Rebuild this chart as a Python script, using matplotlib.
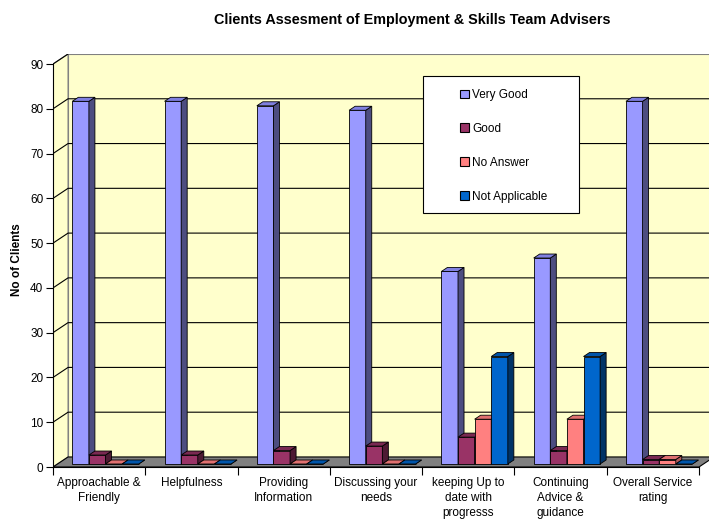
import matplotlib
matplotlib.use('Agg')
import matplotlib.pyplot as plt
from matplotlib.patches import Polygon, Rectangle, Patch

plt.rcParams['font.family'] = ['Liberation Sans', 'DejaVu Sans']

# Survey results per question
categories = ['Approachable &\nFriendly', 'Helpfulness', 'Providing\nInformation',
              'Discussing your\nneeds', 'keeping Up to\ndate with\nprogresss',
              'Continuing\nAdvice &\nguidance', 'Overall Service\nrating']
series = ['Very Good', 'Good', 'No Answer', 'Not Applicable']
very_good = [81, 81, 80, 79, 43, 46, 81]
good = [2, 2, 3, 4, 6, 3, 1]
no_answer = [0, 0, 0, 0, 10, 10, 1]
not_applicable = [0, 0, 0, 0, 24, 24, 0]
values = [very_good, good, no_answer, not_applicable]

# (front, side, top) colours for each series
colors = [('#9999FF', '#4D4D80', '#8080E0'),
          ('#993366', '#4D1A33', '#7A2952'),
          ('#FF8080', '#B35A5A', '#E07070'),
          ('#0066CC', '#003366', '#0055AA')]

n = len(categories)
ymax = 90
DX, DY = 0.163, 2.24          # depth of the 3d box in data units
bw, start = 0.18, 0.16        # bar width and group start inside a category
f0, fd = 0.3, 0.4             # bar placement and thickness along the depth

fig = plt.figure(figsize=(7.09, 5.19), dpi=100)
ax = fig.add_axes([53 / 709, 52 / 519, 661 / 709, 413 / 519])
ax.set_xlim(0, n + DX)
ax.set_ylim(0, ymax + DY)

# walls and floor
wall = dict(fc='#FFFFCC', ec='#808080', lw=0.8, zorder=0)
ax.add_patch(Polygon([(DX, DY), (n + DX, DY), (n + DX, ymax + DY), (DX, ymax + DY)], **wall))
ax.add_patch(Polygon([(0, 0), (DX, DY), (DX, ymax + DY), (0, ymax)], **wall))
ax.add_patch(Polygon([(0, 0), (n, 0), (n + DX, DY), (DX, DY)],
                     fc='#808080', ec='black', lw=0.8, zorder=0.5))

for v in range(10, ymax, 10):
    ax.plot([0, DX, n + DX], [v, v + DY, v + DY], color='black', lw=0.8, zorder=0.3)
ax.plot([0, DX], [ymax, ymax + DY], color='black', lw=0.8, zorder=0.3)

# 3d-looking bars
ox, oy = f0 * DX, f0 * DY
bdx, bdy = fd * DX, fd * DY
z = 1
for i in range(n):
    for k, vals in enumerate(values):
        v = vals[i]
        front, side, top = colors[k]
        x = i + start + k * bw + ox
        ax.add_patch(Rectangle((x, oy), bw, v, fc=front, ec='black', lw=0.6, zorder=z))
        ax.add_patch(Polygon([(x + bw, oy), (x + bw + bdx, oy + bdy),
                              (x + bw + bdx, v + oy + bdy), (x + bw, v + oy)],
                             fc=side, ec='black', lw=0.6, zorder=z))
        ax.add_patch(Polygon([(x, v + oy), (x + bw, v + oy),
                              (x + bw + bdx, v + oy + bdy), (x + bdx, v + oy + bdy)],
                             fc=top, ec='black', lw=0.6, zorder=z))
        z += 1

# axes
for s in ['top', 'right']:
    ax.spines[s].set_visible(False)
ax.spines['left'].set_bounds(0, ymax)
ax.spines['bottom'].set_bounds(0, n)
for s in ['left', 'bottom']:
    ax.spines[s].set_zorder(100)
    ax.spines[s].set_linewidth(0.8)

ax.set_yticks(range(0, ymax + 1, 10))
ax.tick_params(axis='y', direction='out', length=5, width=0.8, labelsize=8.5, pad=2)
ax.set_xticks(range(n + 1))
ax.set_xticklabels([''] * (n + 1))
ax.tick_params(axis='x', which='major', direction='out', length=6, width=0.8)
ax.set_xticks([i + 0.5 for i in range(n)], minor=True)
ax.set_xticklabels(categories, minor=True, fontsize=8.5, linespacing=1.33)
ax.tick_params(axis='x', which='minor', length=0, pad=7)

fig.text(412 / 709, 1 - 20 / 519, 'Clients Assesment of Employment & Skills Team Advisers',
         ha='center', va='center', fontsize=10.4, fontweight='bold')
fig.text(17 / 709, 1 - 260 / 519, 'No of Clients', rotation=90,
         ha='center', va='center', fontsize=8.5, fontweight='bold')

# legend in a white box
fig.patches.append(Rectangle((423 / 709, 1 - 213 / 519), 156 / 709, 137 / 519,
                             transform=fig.transFigure, fc='white', ec='black', lw=0.8))
handles = [Patch(fc=c[0], ec='black', lw=0.8) for c in colors]
fig.legend(handles, series, loc='upper left', bbox_to_anchor=(460 / 709, 1 - 89 / 519),
           frameon=False, fontsize=8.5, handlelength=0.75, handleheight=0.75,
           handletextpad=0.3, labelspacing=1.85, borderpad=0, borderaxespad=0)

fig.savefig('out.png', dpi=100)
